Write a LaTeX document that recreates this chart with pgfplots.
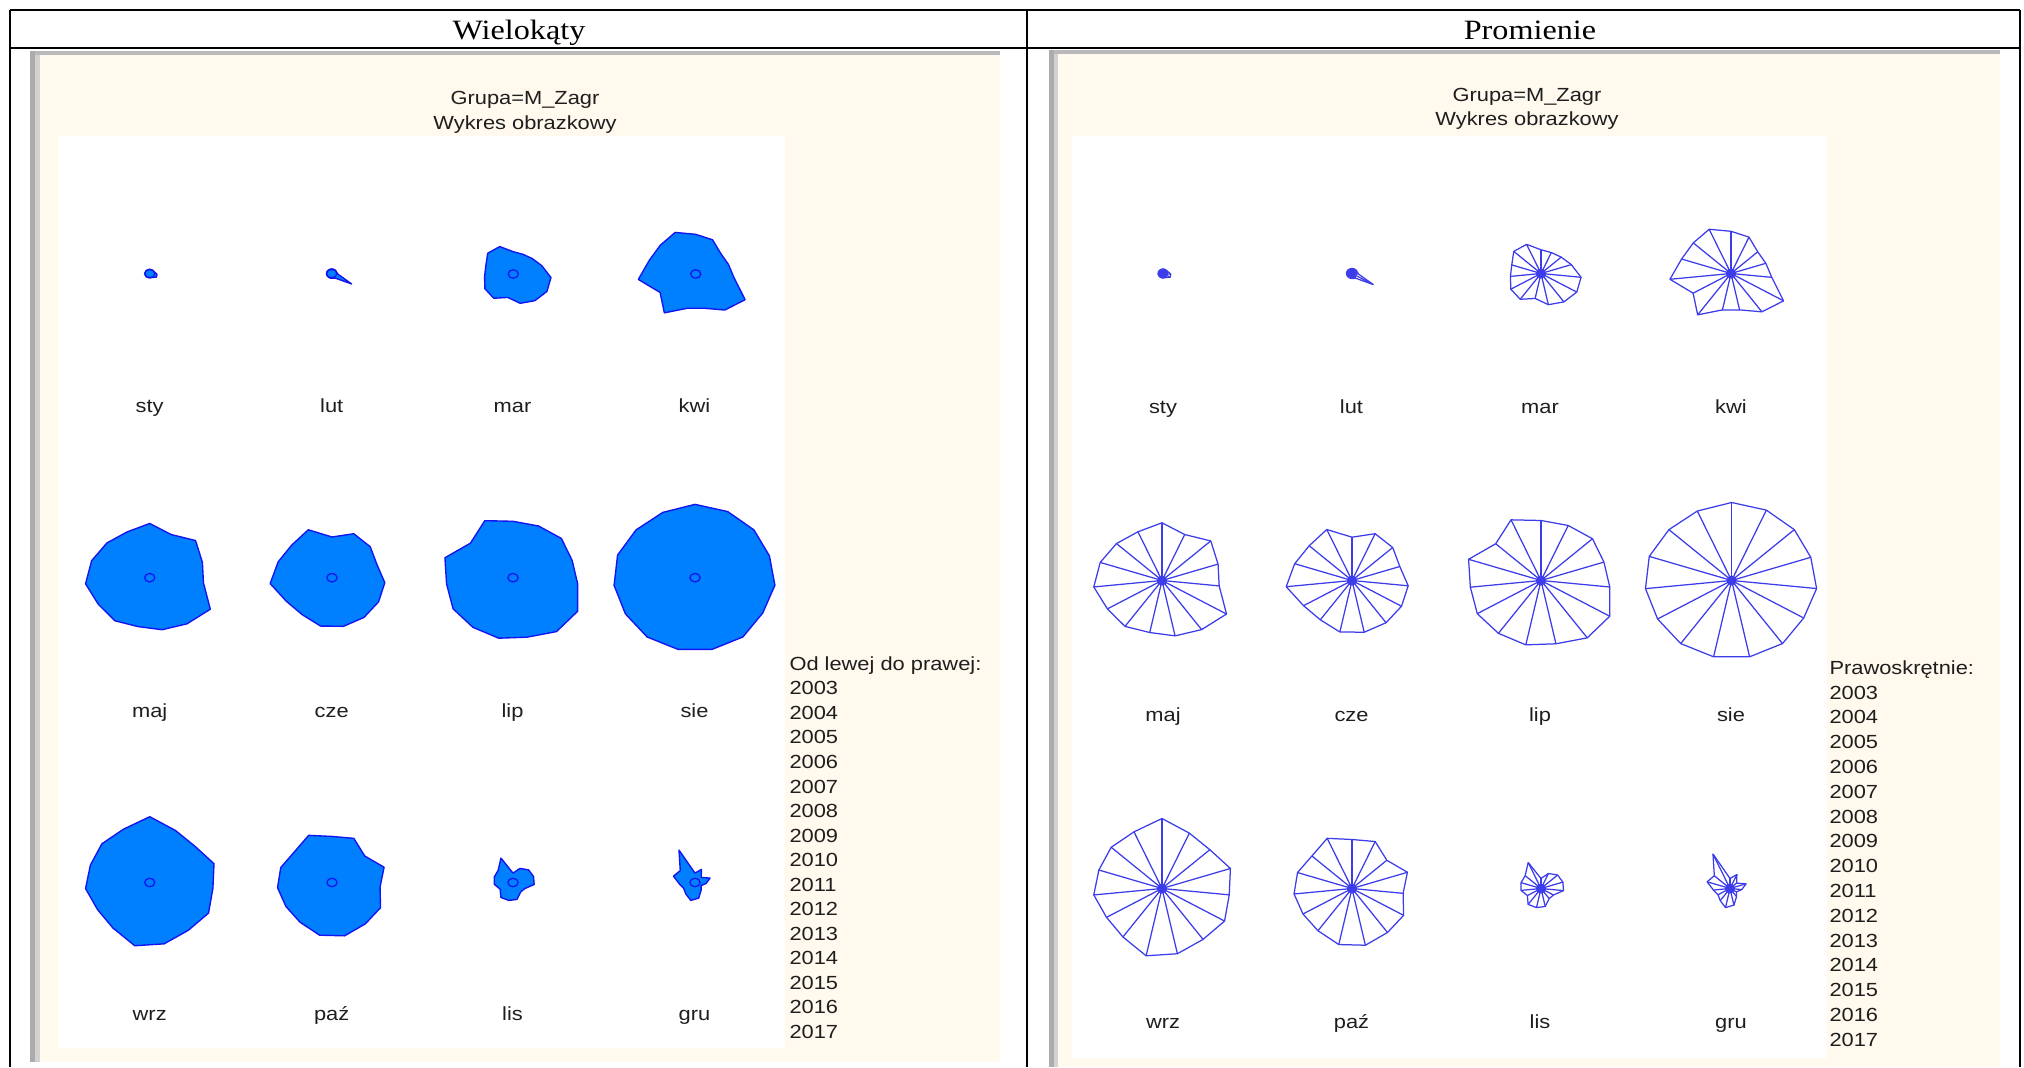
\documentclass[border=0pt]{standalone}
\usepackage{pgfplots}
\pgfplotsset{compat=1.18}
\usepackage{pgfplotstable}
\usepackage{fontspec}
\setmainfont{Liberation Sans}
\newfontfamily\arialx[FakeStretch=1.15]{Liberation Sans}
\newfontfamily\timesx[FakeStretch=1.15]{Liberation Serif}
\definecolor{cream}{RGB}{255,249,238}
\definecolor{polyfill}{RGB}{0,128,255}
\definecolor{polyline}{RGB}{20,20,240}
\definecolor{raycol}{RGB}{60,60,235}
\definecolor{txt}{RGB}{30,30,30}

% radii of the icons (one column per month, one row per year 2003..2017; last row repeats 2003 to close)
\pgfplotstableread{
yr   ang  sty lut mar  kwi  maj  cze  lip  sie wrz  paz  lis  gru
2003 90   4.5 5   23.7 42.2 57.7 43.3 60.0 78 70.0 49.0 10.0 10.0
2004 66   4.5 5   22.9 39.8 50.3 51.2 60.2 77 60.6 51.4 16.4 15.3
2005 42   4.5 5   24.5 32.4 59.1 49.3 62.4 76 58.0 42.2 20.1 8.0
2006 18   5   5   28.7 33.0 53.1 45.3 59.6 75 64.8 52.5 20.7 15.2
2007 -6   7   6   36.3 36.9 51.8 50.9 62.3 77 60.9 46.3 20.4 10.6
2008 -30  7.5 22  37.2 54.7 67.1 51.5 71.5 75 65.1 53.7 13.0 6.7
2009 -54  5   6   35.1 47.4 60.7 52.2 70.9 78 62.9 54.4 12.5 10.0
2010 -78  4.5 5   31.9 37.2 56.6 52.9 64.7 78 66.7 58.0 18.4 17.0
2011 -102 4.5 5   25.5 37.2 53.2 52.6 65.8 78 68.8 57.3 19.5 19.5
2012 -126 4.5 5   31.9 51.1 56.7 48.6 65.3 78 59.9 52.2 19.7 15.0
2013 -150 4.5 5   31.4 39.4 56.8 50.4 66.3 77 57.7 51.0 14.2 12.5
2014 -174 4.5 5   27.7 55.3 61.8 59.6 64.0 78 61.8 52.5 18.1 15.0
2015 -198 4.5 5   27.7 46.8 58.5 54.3 68.6 78 59.8 51.6 18.9 21.7
2016 -222 4.5 5   33.0 45.7 55.2 51.9 54.9 76 61.6 48.6 19.2 19.0
2017 -246 4.5 5   31.9 48.4 53.3 55.8 66.4 76 62.0 54.9 28.4 37.7
2003 90   4.5 5   23.7 42.2 57.7 43.3 60.0 78 70.0 49.0 10.0 10.0
}\data

% polygon icon (left panel): column, centre x, centre y
\newcommand{\polyglyph}[3]{%
  \addplot[draw=polyline, fill=polyfill, line width=0.55pt, line join=round]
    table[x expr={#2+1.0434*\thisrow{#1}*cos(\thisrow{ang})},
          y expr={#3-0.94*\thisrow{#1}*sin(\thisrow{ang})}] {\data};}
% star icon (right panel): rays + outline
\newcommand{\starglyph}[3]{%
  \addplot[raycol, line width=0.5pt, quiver={u={1.11*\thisrow{#1}*cos(\thisrow{ang})}, v={-\thisrow{#1}*sin(\thisrow{ang})}}]
    table[x expr={#2}, y expr={#3}] {\data};
  \addplot[raycol, line width=0.5pt, line join=round]
    table[x expr={#2+1.11*\thisrow{#1}*cos(\thisrow{ang})},
          y expr={#3-\thisrow{#1}*sin(\thisrow{ang})}] {\data};}

\begin{document}
\begin{tikzpicture}
\begin{axis}[width=809.6pt, height=426.8pt, scale only axis,
  xmin=0, xmax=2024, ymin=0, ymax=1067, y dir=reverse,
  hide axis, clip=false]

% fix the picture's extent to the full frame
\path (0,0) rectangle (2024,1067);

% ---- left screenshot background
\fill[cream] (30,51) rectangle (1000,1062);
\fill[gray!55] (30,51) rectangle (1000,55);
\fill[gray!65] (30,51) rectangle (35,1062);
\fill[gray!35] (35,55) rectangle (40,1062);
\fill[white] (58,136) rectangle (785,1048);
% ---- right screenshot background
\fill[cream] (1049,50) rectangle (2000,1067);
\fill[gray!55] (1049,50) rectangle (2000,54);
\fill[gray!65] (1049,50) rectangle (1054,1067);
\fill[gray!35] (1054,54) rectangle (1058,1067);
\fill[white] (1072,136) rectangle (1827,1058);

% ---- table rules
\draw[black, line width=0.6pt] (10,10) -- (2020,10);
\draw[black, line width=0.6pt] (10,48) -- (2020,48);
\draw[black, line width=0.6pt] (10,10) -- (10,1067);
\draw[black, line width=0.6pt] (1027,10) -- (1027,1067);
\draw[black, line width=0.6pt] (2020,10) -- (2020,1067);

% ---- headers
\node[anchor=base, inner sep=0, font=\timesx\fontsize{11.2pt}{12pt}\selectfont] at (519,39.5) {Wielokąty};
\node[anchor=base, inner sep=0, font=\timesx\fontsize{11.2pt}{12pt}\selectfont] at (1530,39.5) {Promienie};

% ---- panel titles
\node[anchor=base, inner sep=0, text=txt, font=\arialx\fontsize{7.6pt}{9pt}\selectfont] at (525,104.5) {Grupa=M\_Zagr};
\node[anchor=base, inner sep=0, text=txt, font=\arialx\fontsize{7.6pt}{9pt}\selectfont] at (525,129.5) {Wykres obrazkowy};
\node[anchor=base, inner sep=0, text=txt, font=\arialx\fontsize{7.6pt}{9pt}\selectfont] at (1527,102) {Grupa=M\_Zagr};
\node[anchor=base, inner sep=0, text=txt, font=\arialx\fontsize{7.6pt}{9pt}\selectfont] at (1527,126) {Wykres obrazkowy};

% ---- left polygons
\polyglyph{sty}{149.7}{273.6}
\polyglyph{lut}{331.7}{273.6}
\polyglyph{mar}{513.3}{274}
\polyglyph{kwi}{695.7}{274}
\polyglyph{maj}{149.7}{577.7}
\polyglyph{cze}{332}{577.7}
\polyglyph{lip}{513}{577.7}
\polyglyph{sie}{695}{577.7}
\polyglyph{wrz}{149.7}{882.5}
\polyglyph{paz}{332}{882.5}
\polyglyph{lis}{513}{882.5}
\polyglyph{gru}{695}{882.5}
\addplot[only marks, mark=o, polyline, mark size=1.7pt, line width=0.5pt, mark options={xscale=1.2}] coordinates {
 (149.7,273.6) (331.7,273.6) (513.3,274) (695.7,274)
 (149.7,577.7) (332,577.7) (513,577.7) (695,577.7)
 (149.7,882.5) (332,882.5) (513,882.5) (695,882.5)};

% ---- right stars
\starglyph{sty}{1163}{273.5}
\starglyph{lut}{1352}{273.5}
\starglyph{mar}{1541}{273.5}
\starglyph{kwi}{1731}{273.5}
\starglyph{maj}{1162}{580.5}
\starglyph{cze}{1352}{580.5}
\starglyph{lip}{1541}{580.5}
\starglyph{sie}{1731.6}{580.5}
\starglyph{wrz}{1162}{888.5}
\starglyph{paz}{1352}{888.5}
\starglyph{lis}{1541}{888.5}
\starglyph{gru}{1730}{888.5}
\addplot[only marks, mark=*, raycol, mark size=1.8pt] coordinates {
 (1163,273.5) (1352,273.5) (1541,273.5) (1731,273.5)
 (1162,580.5) (1352,580.5) (1541,580.5) (1731.6,580.5)
 (1162,888.5) (1352,888.5) (1541,888.5) (1730,888.5)};

% ---- month labels
\begin{scope}[every node/.style={anchor=base, inner sep=0, text=txt, font=\arialx\fontsize{7.6pt}{9pt}\selectfont}]
\node at (149.7,413) {sty}; \node at (331.7,413) {lut}; \node at (512.5,413) {mar}; \node at (694.5,413) {kwi};
\node at (149.7,718) {maj}; \node at (331.7,718) {cze}; \node at (512.5,718) {lip}; \node at (694.5,718) {sie};
\node at (149.7,1021) {wrz}; \node at (331.7,1021) {paź}; \node at (512.5,1021) {lis}; \node at (694.5,1021) {gru};
\node at (1163,414) {sty}; \node at (1351.5,414) {lut}; \node at (1540,414) {mar}; \node at (1731,414) {kwi};
\node at (1163,722) {maj}; \node at (1351.5,722) {cze}; \node at (1540,722) {lip}; \node at (1731,722) {sie};
\node at (1163,1029) {wrz}; \node at (1351.5,1029) {paź}; \node at (1540,1029) {lis}; \node at (1731,1029) {gru};
\end{scope}

% ---- legends
\node[anchor=north west, align=left, inner sep=0, text=txt, font=\arialx\fontsize{7.6pt}{9.82pt}\selectfont] at (789,656)
 {Od lewej do prawej:\\2003\\2004\\2005\\2006\\2007\\2008\\2009\\2010\\2011\\2012\\2013\\2014\\2015\\2016\\2017};
\node[anchor=north west, align=left, inner sep=0, text=txt, font=\arialx\fontsize{7.6pt}{9.92pt}\selectfont] at (1829,660)
 {Prawoskrętnie:\\2003\\2004\\2005\\2006\\2007\\2008\\2009\\2010\\2011\\2012\\2013\\2014\\2015\\2016\\2017};
\end{axis}
\end{tikzpicture}
\end{document}
